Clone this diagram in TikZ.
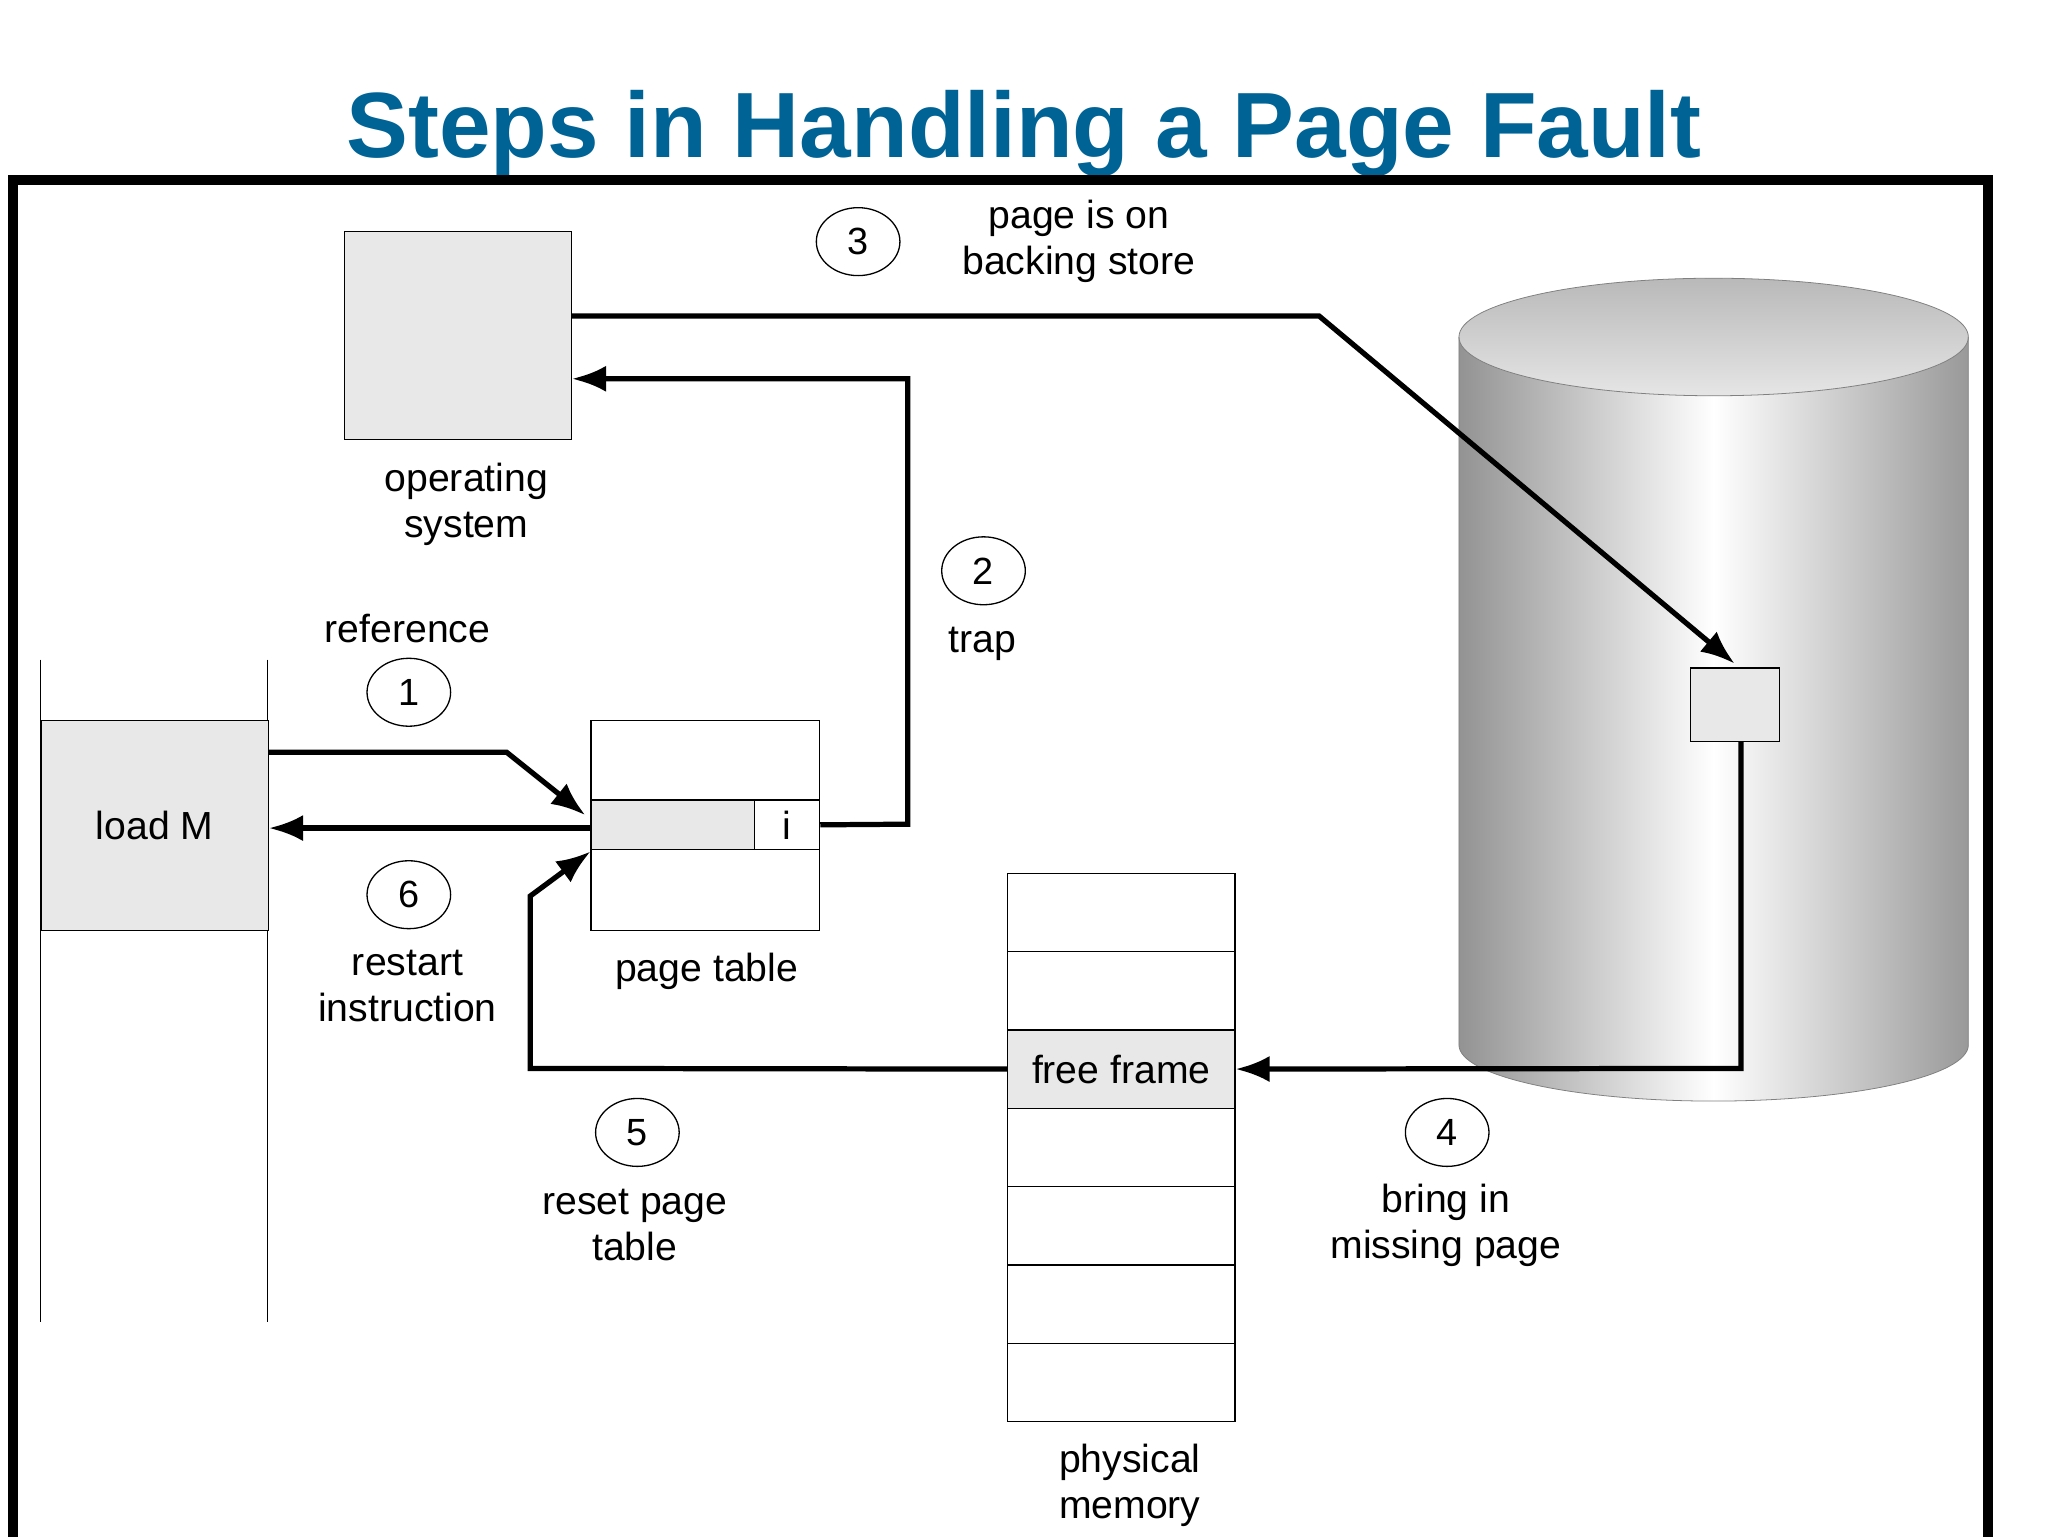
\documentclass[tikz,border=0pt]{standalone}
\usepackage{fontspec}
\setmainfont{Liberation Sans}
\usetikzlibrary{arrows.meta,shapes.geometric}
\definecolor{boxg}{gray}{0.91}
\definecolor{titleblue}{RGB}{0,99,150}
\begin{document}
\begin{tikzpicture}[x=1pt,y=-1pt,
  lbl/.style={font=\fontsize{30}{35}\selectfont,align=center},
  num/.style={draw,ellipse,line width=1pt,minimum width=64pt,minimum height=52pt,inner sep=0pt,font=\fontsize{29}{30}\selectfont},
  box/.style={draw,line width=1pt,fill=boxg},
  arr/.style={line width=4pt,-{Latex[length=26pt,width=20pt]}},
  ln/.style={line width=4pt}]
\useasboundingbox (0,0) rectangle (1568,1176);
\node[font=\fontsize{71}{75}\selectfont\bfseries,text=titleblue] (title) at (784,102) {Steps in Handling a Page Fault};
\draw[line width=8pt] (10,1190) -- (10,138) -- (1522,138) -- (1522,1190);
% cylinder
\shade[left color=gray!85,right color=gray!80,middle color=white,shading angle=90] (1117,258) -- (1117,800) arc[start angle=180,end angle=0,x radius=195,y radius=43] -- (1507,258) -- cycle;
\shade[top color=gray!55,bottom color=gray!20] (1312,258) ellipse[x radius=195,y radius=45];
\draw[line width=0.6pt,gray] (1312,258) ellipse[x radius=195,y radius=45];
\draw[line width=0.6pt,gray] (1117,258) -- (1117,800) arc[start angle=180,end angle=0,x radius=195,y radius=43] -- (1507,258);
\node[box,minimum width=68pt,minimum height=56pt,anchor=north west] (disk) at (1294,511) {};
% OS
\node[box,minimum width=174pt,minimum height=159pt,anchor=north west] (os) at (263,177) {};
\node[lbl] (oslbl) at (357,386) {operating\\system};
% process
\draw[line width=1pt] (31,505) -- (31,1012) (205,505) -- (205,1012);
\node[box,minimum width=174pt,minimum height=161pt,anchor=north west,font=\fontsize{30}{30}\selectfont] (load) at (31,551) {load M};
% page table
\node[draw,line width=1pt,minimum width=175pt,minimum height=161pt,anchor=north west] (pt) at (452,551) {};
\node[box,minimum width=125pt,minimum height=38pt,anchor=north west] (row) at (452,612) {};
\node[draw,line width=1pt,minimum width=50pt,minimum height=38pt,anchor=north west,font=\fontsize{30}{30}\selectfont] (ibit) at (577,612) {i};
\node[lbl] (ptlbl) at (541,744) {page table};
% physical memory
\foreach \i in {0,...,6}{
  \node[draw,line width=1pt,minimum width=174pt,minimum height=60pt,anchor=north west] (m\i) at (771,668+60*\i) {};}
\node[box,minimum width=174pt,minimum height=60pt,anchor=north west,font=\fontsize{30}{30}\selectfont] (free) at (771,788) {free frame};
\node[lbl] (pmlbl) at (865,1137) {physical\\memory};
% numbers
\node[num] (n3) at (657,185) {3};
\node[num] (n2) at (753,437) {2};
\node[num] (n1) at (313,530) {1};
\node[num] (n6) at (313,685) {6};
\node[num] (n5) at (488,867) {5};
\node[num] (n4) at (1108,867) {4};
\node[lbl] (l3) at (826,185) {page is on\\backing store};
\node[lbl] (l2) at (752,493) {trap};
\node[lbl] (l1) at (312,481) {reference};
\node[lbl] (l6) at (312,755) {restart\\instruction};
\node[lbl] (l5) at (486,938) {reset page\\table};
\node[lbl] (l4) at (1107,938) {bring in\\missing page};
% arrows
\coordinate (a1) at (388,576); \coordinate (a3) at (1010,242); \coordinate (a3e) at (1328,508);
\draw[arr] (load.east|-0,576) -- (a1) -- (448,624);
\draw[arr] (row.west|-0,634) -- (load.east|-0,634);
\draw[arr] (ibit.east) -- (695,631) -- (695,290) -- (os.east|-0,290);
\draw[arr] (os.east|-0,242) -- (a3) -- (a3e);
\draw[arr] (disk.south-|1333,0) -- (1333,818) -- (free.east);
\draw[arr] (free.west) -- (406,818) -- (406,686) -- (452,652);
\end{tikzpicture}
\end{document}
